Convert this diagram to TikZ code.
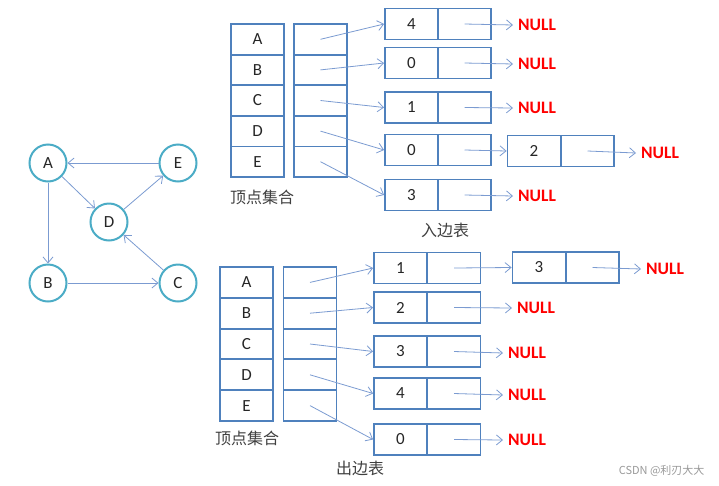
\documentclass[tikz,border=0pt]{standalone}
\usepackage{fontspec}
\setmainfont{Carlito}
\newfontfamily\cjk{Noto Sans CJK SC}
\usetikzlibrary{arrows.meta}
\definecolor{boxc}{HTML}{4F81BD}
\definecolor{arrc}{HTML}{7B9BD1}
\definecolor{circc}{HTML}{4BACC6}
\definecolor{nullc}{HTML}{FF0000}
\tikzset{
  cell/.style={draw=boxc, line width=1.8pt, minimum width=53pt, minimum height=30.6pt, inner sep=0pt, font=\fontsize{17}{20}\selectfont, text=black!85},
  ecell/.style={cell, minimum height=31pt},
  vtx/.style={circle, draw=circc, line width=2pt, minimum size=37pt, inner sep=0pt, fill=white, font=\fontsize{17}{20}\selectfont, text=black!85},
  arr/.style={draw=arrc, line width=0.8pt, -{Straight Barb[length=6pt,width=10pt]}},
  nul/.style={anchor=west, inner xsep=5pt, inner ysep=1pt, text=nullc, font=\fontsize{17.5}{20}\selectfont\bfseries},
  lab/.style={font=\cjk\fontsize{16}{19}\selectfont, text=black!75, inner sep=1pt},
}
\begin{document}
\begin{tikzpicture}[x=1pt,y=-1pt]
\useasboundingbox (0,0) rectangle (719,485);
% graph
\node[vtx] (A) at (48,163) {A};
\node[vtx] (E) at (178,163) {E};
\node[vtx] (D) at (109,222) {D};
\node[vtx] (B) at (48,283) {B};
\node[vtx] (C) at (178,283) {C};
\draw[arr] (E) -- (A);
\draw[arr] (A) -- (D);
\draw[arr] (D) -- (E);
\draw[arr] (C) -- (D);
\draw[arr] (A) -- (B);
\draw[arr] (B) -- (C);
% top vertex table
\foreach \l [count=\i] in {A,B,C,D,E}{
  \node[cell] (tv\i) at (257.5,{39.3+30.6*(\i-1)}) {\l};
  \node[cell] (tp\i) at (320.5,{39.3+30.6*(\i-1)}) {};
}
\node[lab] (tl) at (262,197) {顶点集合};
% top edge lists
\foreach \v/\y [count=\i] in {4/24,0/63,1/107.5,0/150,3/195}{
  \node[ecell] (td\i) at (411.5,\y) {\v};
  \node[ecell] (tn\i) at (464.5,\y) {};
}
\node[ecell] (td6) at (534,151) {2};
\node[ecell] (tn6) at (587.5,151) {};
\node[nul] (tz1) at (513,25) {NULL};
\node[nul] (tz2) at (513,64) {NULL};
\node[nul] (tz3) at (513,108) {NULL};
\node[nul] (tz5) at (513,196) {NULL};
\node[nul] (tz6) at (636,153) {NULL};
\foreach \i in {1,...,5}{\draw[arr] (tp\i.center) -- (td\i.west);}
\foreach \i in {1,2,3,5}{\draw[arr] (tn\i.center) -- (tz\i.west);}
\draw[arr] (tn4.center) -- (td6.west);
\draw[arr] (tn6.center) -- (tz6.west);
\node[lab] (tt) at (445,230) {入边表};
% bottom vertex table
\foreach \l [count=\i] in {A,B,C,D,E}{
  \node[cell] (bv\i) at (246.5,{282.4+30.8*(\i-1)}) {\l};
  \node[cell] (bp\i) at (310,{282.4+30.8*(\i-1)}) {};
}
\node[lab] (bl) at (247,438) {顶点集合};
% bottom edge lists
\foreach \v/\y [count=\i] in {1/268,2/307.5,3/351.5,4/393.5,0/439.5}{
  \node[ecell] (bd\i) at (400.5,\y) {\v};
  \node[ecell] (bn\i) at (454,\y) {};
}
\node[ecell] (bd6) at (539,267.5) {3};
\node[ecell] (bn6) at (592.5,267.5) {};
\node[nul] (bz2) at (512,308) {NULL};
\node[nul] (bz3) at (503,353) {NULL};
\node[nul] (bz4) at (503,395) {NULL};
\node[nul] (bz5) at (503,440) {NULL};
\node[nul] (bz6) at (641,269) {NULL};
\foreach \i in {1,...,5}{\draw[arr] (bp\i.center) -- (bd\i.west);}
\foreach \i in {2,...,5}{\draw[arr] (bn\i.center) -- (bz\i.west);}
\draw[arr] (bn1.center) -- (bd6.west);
\draw[arr] (bn6.center) -- (bz6.west);
\node[lab] (bt) at (360,468) {出边表};
% watermark
\node[font=\cjk\fontsize{11}{13}\selectfont, text=black!40, anchor=east] (wm) at (708,471) {CSDN @利刃大大};
\end{tikzpicture}
\end{document}
